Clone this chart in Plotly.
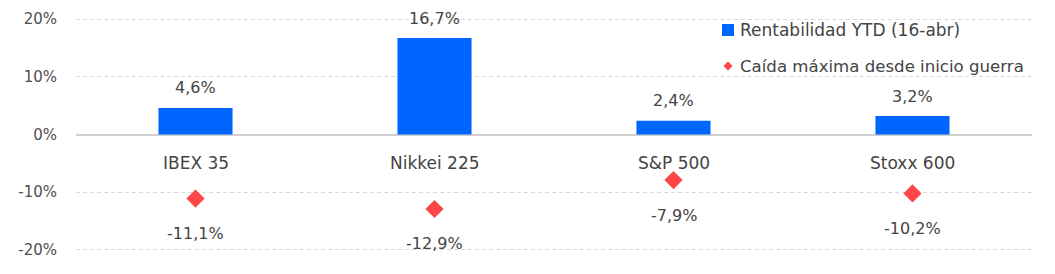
import plotly.graph_objects as go

categories = ["IBEX 35", "Nikkei 225", "S&P 500", "Stoxx 600"]
ytd_return = [4.6, 16.7, 2.4, 3.2]
max_drawdown = [-11.1, -12.9, -7.9, -10.2]
y_ticks = [-20, -10, 0, 10, 20]
y_tick_labels = ["-20%", "-10%", "0%", "10%", "20%"]
bar_name = "Rentabilidad YTD (16-abr)"
marker_name = "Caída máxima desde inicio guerra"


def fmt(v):
    return f"{v:.1f}%".replace(".", ",")


FONT = "DejaVu Sans"
TXT = "#444444"
BLUE = "#0066ff"
RED = "#ff4646"

fig = go.Figure()
fig.add_trace(go.Bar(
    x=categories, y=ytd_return, name=bar_name,
    marker=dict(color=BLUE, line=dict(width=0)),
    width=0.31, showlegend=False,
))
fig.add_trace(go.Scatter(
    x=categories, y=max_drawdown, name=marker_name, mode="markers",
    marker=dict(symbol="diamond", size=14, color=RED, line=dict(width=0)),
    showlegend=False,
))

annotations = []
for c, v in zip(categories, ytd_return):
    annotations.append(dict(x=c, y=v, text=fmt(v), showarrow=False,
                            yanchor="middle", yshift=20,
                            font=dict(family=FONT, size=16, color=TXT)))
for c, v in zip(categories, max_drawdown):
    annotations.append(dict(x=c, y=v, text=fmt(v), showarrow=False,
                            yanchor="middle", yshift=-35,
                            font=dict(family=FONT, size=16, color=TXT)))
for c in categories:
    annotations.append(dict(x=c, y=0, text=c, showarrow=False,
                            yanchor="middle", yshift=-28,
                            font=dict(family=FONT, size=17, color=TXT)))

# manual legend (text + pixel-sized symbols)
annotations.append(dict(xref="paper", yref="paper", x=0.6925, y=0.9447,
                        xanchor="left", yanchor="middle", showarrow=False,
                        text=bar_name, font=dict(family=FONT, size=17, color=TXT)))
annotations.append(dict(xref="paper", yref="paper", x=0.6925, y=0.789,
                        xanchor="left", yanchor="middle", showarrow=False,
                        text=marker_name, font=dict(family=FONT, size=16.6, color=TXT)))

shapes = [
    dict(type="rect", xref="paper", yref="paper", xsizemode="pixel", ysizemode="pixel",
         xanchor=0.682, yanchor=0.9447, x0=-6, x1=6, y0=-6, y1=6,
         fillcolor=BLUE, line=dict(width=0)),
    dict(type="path", xref="paper", yref="paper", xsizemode="pixel", ysizemode="pixel",
         xanchor=0.682, yanchor=0.7915, path="M0,4.5 L4.5,0 L0,-4.5 L-4.5,0 Z",
         fillcolor=RED, line=dict(width=0)),
]

fig.update_layout(
    width=1055, height=274,
    margin=dict(l=76, r=23, t=17, b=22, autoexpand=False),
    paper_bgcolor="white", plot_bgcolor="white",
    font=dict(family=FONT, size=15, color=TXT),
    showlegend=False,
    annotations=annotations,
    shapes=shapes,
)
fig.update_xaxes(showticklabels=False, showgrid=False, zeroline=False,
                 showline=False, ticks="", automargin=False)
fig.update_yaxes(range=[-20.35, 20.35], tickvals=y_ticks, ticktext=y_tick_labels,
                 showgrid=True, gridcolor="#d9d9d9", griddash="4px,3px", gridwidth=1,
                 zeroline=True, zerolinecolor="#d0d0d0", zerolinewidth=2,
                 showline=False, ticks="", ticklabelstandoff=18, automargin=False,
                 tickfont=dict(family=FONT, size=15, color="#505050"))

fig.write_html("out.html")
